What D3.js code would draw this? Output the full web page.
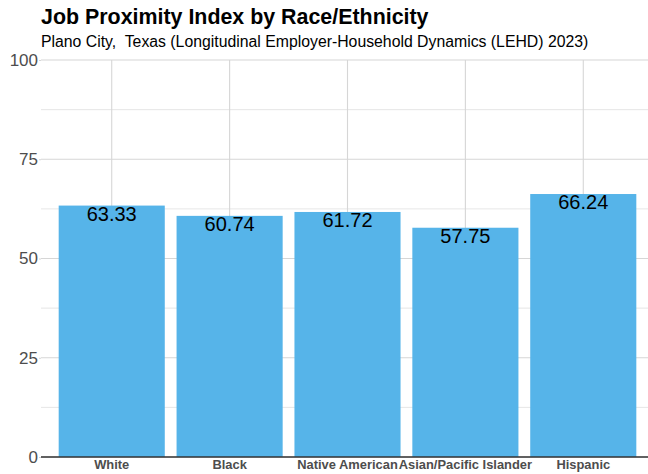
<!DOCTYPE html>
<html>
<head>
<meta charset="utf-8">
<script src="https://cdn.jsdelivr.net/npm/d3@7"></script>
<style>
  html, body { margin: 0; padding: 0; background: #ffffff; }
  svg { display: block; font-family: "Liberation Sans", Arial, sans-serif; }
</style>
</head>
<body>
<svg id="chart" width="648" height="474"></svg>
<script>
// Job proximity index values per group
const groups = ["White", "Black", "Native American", "Asian/Pacific Islander", "Hispanic"];
const values = [63.33, 60.74, 61.72, 57.75, 66.24];
const yTicks = [0, 25, 50, 75, 100];
const yMinor = [12.5, 37.5, 62.5, 87.5];

const title = "Job Proximity Index by Race/Ethnicity";
const subtitle = "Plano City,  Texas (Longitudinal Employer-Household Dynamics (LEHD) 2023)";

const svg = d3.select("#chart");
const panel = { left: 41, right: 654, top: 60, bottom: 457 };

const x = d3.scaleBand()
  .domain(groups)
  .range([panel.left, panel.right])
  .paddingInner(0.1)
  .paddingOuter(0.15);

const y = d3.scaleLinear()
  .domain([0, 100])
  .range([panel.bottom, panel.top]);

const grid = svg.append("g");

// minor horizontal grid
grid.selectAll("line.minor")
  .data(yMinor)
  .join("line")
  .attr("class", "minor")
  .attr("x1", panel.left).attr("x2", 648)
  .attr("y1", d => y(d)).attr("y2", d => y(d))
  .attr("stroke", "#e0e0e0").attr("stroke-width", 0.8);

// major horizontal grid
grid.selectAll("line.major")
  .data(yTicks)
  .join("line")
  .attr("class", "major")
  .attr("x1", panel.left).attr("x2", 648)
  .attr("y1", d => y(d)).attr("y2", d => y(d))
  .attr("stroke", "#d6d6d6").attr("stroke-width", 1.1);

// vertical grid at category centres
grid.selectAll("line.vert")
  .data(groups)
  .join("line")
  .attr("class", "vert")
  .attr("x1", d => x(d) + x.bandwidth() / 2).attr("x2", d => x(d) + x.bandwidth() / 2)
  .attr("y1", panel.top).attr("y2", panel.bottom)
  .attr("stroke", "#d6d6d6").attr("stroke-width", 1.1);

// bars
svg.append("g").selectAll("rect")
  .data(groups)
  .join("rect")
  .attr("x", d => x(d))
  .attr("width", x.bandwidth())
  .attr("y", (d, i) => y(values[i]))
  .attr("height", (d, i) => y(0) - y(values[i]))
  .attr("fill", "#56B4E9");

// value labels
svg.append("g").selectAll("text")
  .data(groups)
  .join("text")
  .attr("x", d => x(d) + x.bandwidth() / 2)
  .attr("y", (d, i) => y(values[i]) + 15)
  .attr("text-anchor", "middle")
  .attr("font-size", 20)
  .attr("fill", "#000000")
  .text((d, i) => values[i].toFixed(2));

// baseline
svg.append("line")
  .attr("x1", panel.left).attr("x2", 648)
  .attr("y1", y(0)).attr("y2", y(0))
  .attr("stroke", "#333333").attr("stroke-width", 1.3);

// y axis
const yAxis = svg.append("g")
  .attr("transform", `translate(${panel.left},0)`)
  .call(d3.axisLeft(y).tickValues(yTicks).tickSize(2).tickPadding(1));
yAxis.select(".domain").remove();
yAxis.selectAll(".tick line").attr("stroke", "#d6d6d6");
yAxis.selectAll(".tick text")
  .attr("font-size", 17)
  .attr("fill", "#4d4d4d")
  .attr("font-family", "Liberation Sans, Arial, sans-serif");

// x axis
const xAxis = svg.append("g")
  .attr("transform", `translate(0,${panel.bottom})`)
  .call(d3.axisBottom(x).tickSize(0).tickPadding(3));
xAxis.select(".domain").remove();
xAxis.selectAll(".tick text")
  .attr("font-size", 12.9)
  .attr("font-weight", "bold")
  .attr("fill", "#4d4d4d")
  .attr("font-family", "Liberation Sans, Arial, sans-serif");

// titles
svg.append("text")
  .attr("x", 41).attr("y", 24)
  .attr("font-size", 21.4)
  .attr("font-weight", "bold")
  .attr("fill", "#000000")
  .text(title);

svg.append("text")
  .attr("x", 41).attr("y", 47)
  .attr("font-size", 15.8)
  .attr("fill", "#000000")
  .style("white-space", "pre")
  .text(subtitle);
</script>
</body>
</html>
